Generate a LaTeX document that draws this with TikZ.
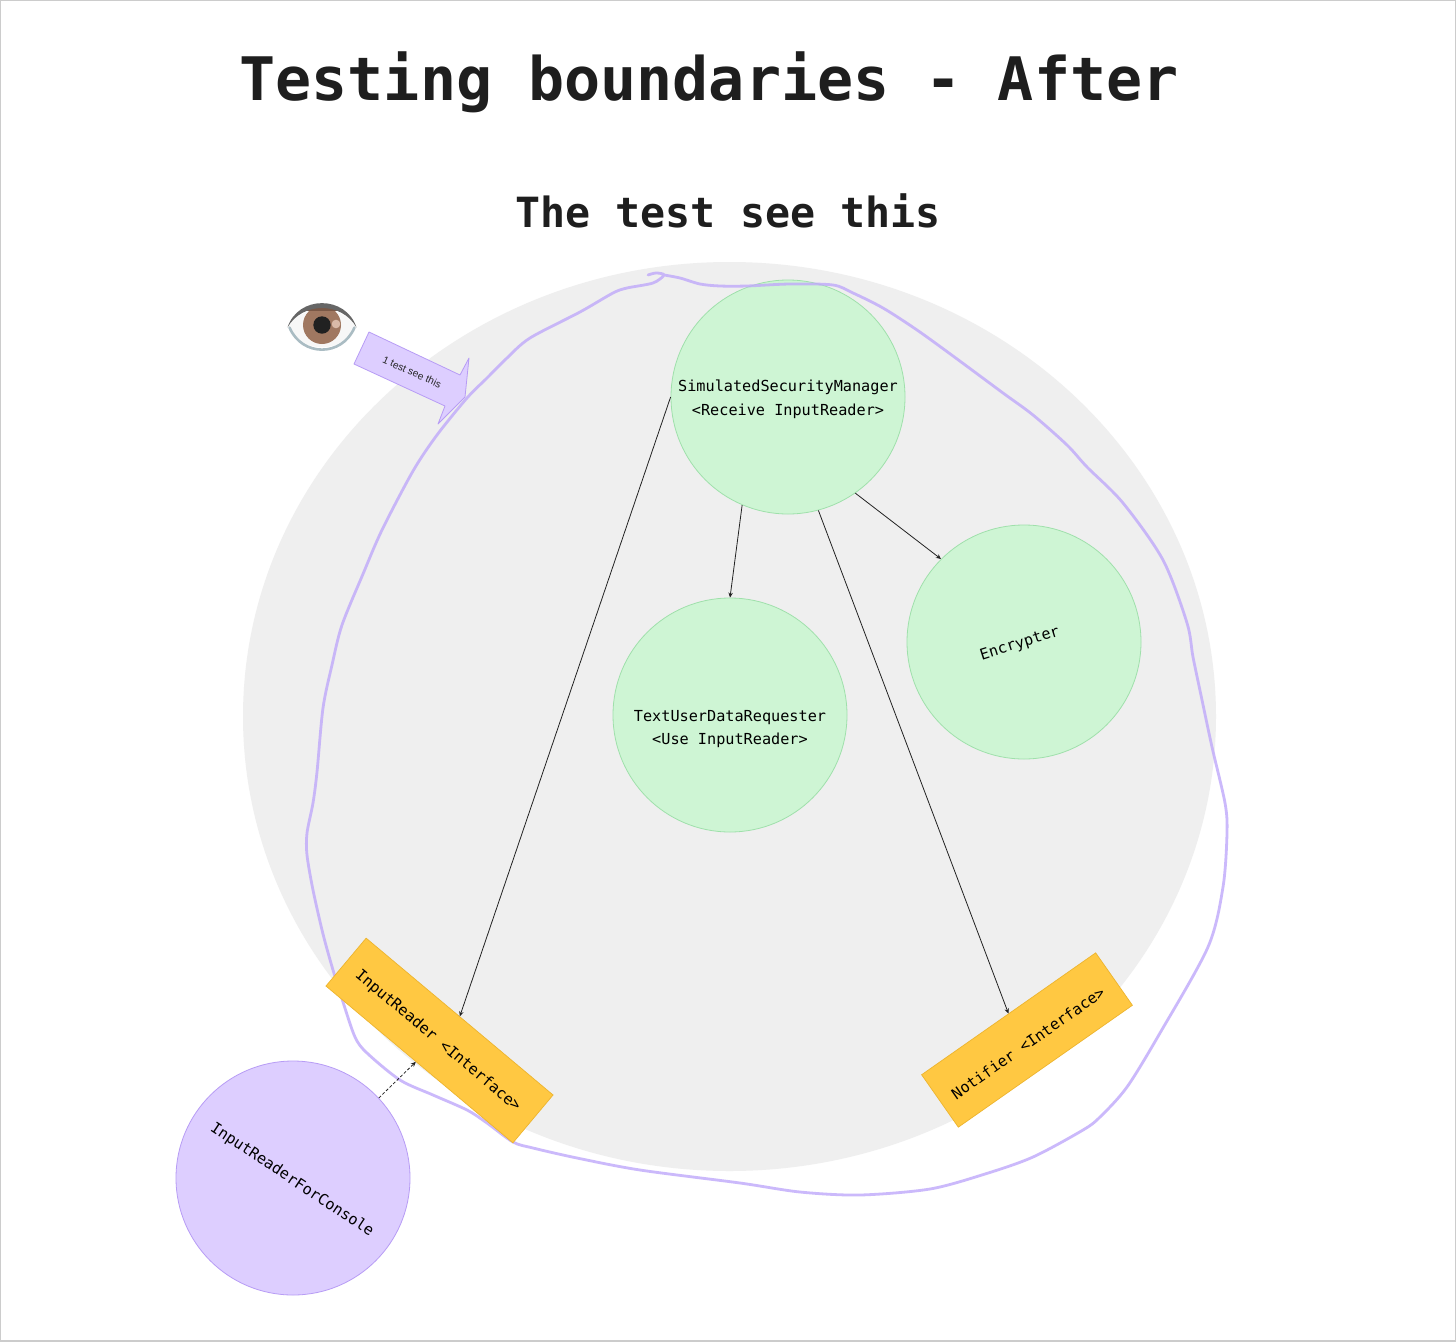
\documentclass[tikz,border=0pt]{standalone}
\usepackage{fontspec}
\usetikzlibrary{arrows.meta,shapes.geometric}
\newfontfamily\dmono{DejaVu Sans Mono}
\newfontfamily\lsans{Liberation Sans}
\definecolor{titleink}{HTML}{1E1E1E}
\definecolor{greyblob}{HTML}{EFEFEF}
\definecolor{greenfill}{HTML}{CEF5D4}
\definecolor{greenline}{HTML}{9FE0AB}
\definecolor{purplefill}{HTML}{DDCEFF}
\definecolor{purpleline}{HTML}{B79CF5}
\definecolor{squiggle}{HTML}{BFA8FA}
\definecolor{amber}{HTML}{FFC842}
\definecolor{amberline}{HTML}{EDB42E}
\definecolor{edgegrey}{HTML}{CCCCCC}
\definecolor{linkink}{HTML}{222222}
\tikzset{
  greenball/.style={circle,draw=greenline,fill=greenfill,line width=0.8pt,minimum size=234pt,inner sep=0pt},
  purpleball/.style={circle,draw=purpleline,fill=purplefill,line width=0.8pt,minimum size=234pt,inner sep=0pt},
  amberbar/.style={rectangle,draw=amberline,fill=amber,line width=0.7pt,inner sep=0pt},
  codetext/.style={font=\dmono\fontsize{15.2}{23.5}\selectfont,align=center,text=black,inner sep=0pt},
  link/.style={draw=linkink,line width=0.8pt,-{Stealth[length=5pt,width=4.5pt]}},
  dashlink/.style={link,dashed,dash pattern=on 3pt off 2pt}
}
\begin{document}
\begin{tikzpicture}[x=1pt,y=-1pt]
\useasboundingbox (0,0) rectangle (1456,1341);
\fill[white] (0,0) rectangle (1456,1341);
\draw[edgegrey,line width=1.5pt] (0,0) rectangle (1456,1341);

\node[font=\dmono\bfseries\fontsize{60}{60}\selectfont,text=titleink,anchor=base,inner sep=0pt] (title) at (709,100) {Testing boundaries - After};
\node[font=\dmono\bfseries\fontsize{41.6}{42}\selectfont,text=titleink,anchor=base,inner sep=0pt] (subtitle) at (728,227) {The test see this};

\node[ellipse,fill=greyblob,minimum width=973pt,minimum height=909pt,inner sep=0pt] (blob) at (729.5,716.5) {};

\node[greenball] (sim) at (788,397) {};
\node[codetext] (simtext) at (788,399.5) {SimulatedSecurityManager\\<Receive InputReader>};
\node[greenball] (tud) at (730,715) {};
\node[codetext] (tudtext) at (730,729) {TextUserDataRequester\\<Use InputReader>};
\node[greenball] (enc) at (1024,642) {};
\node[codetext,rotate=17.5] (enctext) at (1020,644) {Encrypter};

% hand-drawn boundary
\draw[squiggle,opacity=.8,line width=2.8pt,line cap=round,line join=round]
  plot[smooth,tension=0.5] coordinates {
  (648,275) (656,273) (664,275) (653,283) (627,288) (613,293) (580,312) (530,338) (507,358) (487,378)
  (467,398) (437,435) (413,471) (382,530) (363,574) (342,625) (332,665) (323,708) (317,772) (313,803)
  (307,833) (307,855) (313,890) (323,934) (333,970) (343,1002) (355,1037) (367,1053) (400,1080) (433,1095)
  (467,1110) (487,1123) (513,1142) (533,1148) (577,1158) (640,1170) (740,1183) (800,1192) (860,1195) (930,1189)
  (985,1174) (1033,1157) (1083,1130) (1100,1117) (1127,1087) (1160,1033) (1208,947) (1223,887) (1227,833) (1225,803)
  (1212,747) (1202,700) (1193,657) (1187,623) (1163,560) (1123,503) (1087,467) (1067,445) (1033,415) (1003,393)
  (953,356) (917,330) (883,308) (853,293) (833,285) (790,284) (747,286) (720,286) (700,284)
  (680,278) (664,275) };

\node[amberbar,minimum width=244pt,minimum height=62.5pt,rotate=-40] (ir) at (439.5,1040.5) {};
\node[codetext,rotate=-40] (irtext) at (438,1041) {InputReader <Interface>};
\node[amberbar,rotate=35,minimum width=212.5pt,minimum height=64pt] (not) at (1027,1040) {};
\node[codetext,rotate=35] (nottext) at (1028,1043) {Notifier <Interface>};
\node[purpleball] (irc) at (293,1178) {};
\node[codetext,rotate=-33.5] (irctext) at (292,1180) {InputReaderForConsole};

\draw[link] (sim.180) -- (ir.north);
\draw[link] (sim.247) -- (tud.90);
\draw[link] (sim.285) -- (not.north);
\draw[link] (sim.305) -- (enc.135);
\draw[dashlink] (irc.43) -- (ir.-98);

% speech arrow
\draw[draw=purpleline,fill=purplefill,line width=0.8pt,line join=round]
  (369,332) -- (460,375) -- (469,358) -- (465,397) -- (438,424) -- (445,406) -- (354,364) -- cycle;
\node[font=\lsans\fontsize{10.2}{12}\selectfont,text=black!85,rotate=-24,inner sep=0pt] (arrowtext) at (412,372) {1 test see this};

% eye
\fill[white!97!black] (288.3,326.7) .. controls (302,304) and (342,304) .. (355.7,326.7)
   .. controls (342,354) and (302,354) .. (288.3,326.7) -- cycle;
\begin{scope}
  \clip (288.3,326.7) .. controls (302,301) and (342,301) .. (355.7,326.7)
   .. controls (342,354) and (302,354) .. (288.3,326.7) -- cycle;
  \fill[fill={rgb,255:red,160;green,120;blue,97}] (322,325) circle [radius=19pt];
  \fill[fill={rgb,255:red,122;green,88;blue,70}] (303,306) rectangle (341,311);
\end{scope}
\fill[fill={rgb,255:red,33;green,33;blue,33}] (322,325) circle [radius=8.7pt];
\fill[fill={rgb,255:red,217;green,186;blue,168}] (336,324) circle [radius=4.3pt];
\draw[draw={rgb,255:red,170;green,188;blue,195},line width=2.6pt,line cap=round] (289.5,327.5) .. controls (302,357) and (342,357) .. (354.5,327.5);
\fill[fill={rgb,255:red,102;green,102;blue,102}] (287.5,327.5) .. controls (298,295) and (346,295) .. (356.5,327.5)
  .. controls (342,301.5) and (302,301.5) .. cycle;
\end{tikzpicture}
\end{document}
